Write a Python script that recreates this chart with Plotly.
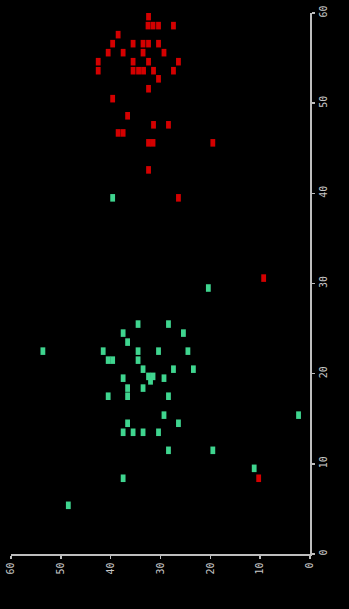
import plotly.graph_objects as go

# Series values (horizontal value = bottom axis, vertical value = right axis)
red_h = [32.4, 32.5, 31.5, 30.4, 27.4, 38.5, 39.6, 35.5, 33.5, 32.4, 30.4, 40.5, 37.5, 33.5, 29.3,
         42.5, 35.5, 32.4, 26.4, 42.5, 35.5, 34.4, 33.4, 31.4, 27.4, 30.4, 32.4, 39.6, 36.6, 31.4,
         28.4, 38.5, 37.5, 32.4, 31.5, 19.5, 32.4, 26.4, 9.3, 10.3]
red_v = [59.6, 58.6, 58.6, 58.6, 58.6, 57.6, 56.6, 56.6, 56.6, 56.6, 56.6, 55.6, 55.6, 55.6, 55.6,
         54.6, 54.6, 54.6, 54.6, 53.6, 53.6, 53.6, 53.6, 53.6, 53.6, 52.7, 51.6, 50.5, 48.6, 47.6,
         47.6, 46.7, 46.7, 45.6, 45.6, 45.6, 42.6, 39.5, 30.6, 8.4]

green_h = [39.6, 20.4, 34.5, 28.4, 37.5, 25.4, 36.6, 53.6, 41.5, 34.5, 30.4, 24.5, 40.5, 39.6, 34.5,
           33.5, 27.4, 23.4, 37.5, 32.4, 31.5, 32.0, 29.3, 36.6, 33.5, 40.5, 36.6, 28.4, 29.3, 2.3,
           36.6, 26.4, 37.5, 35.5, 33.5, 30.4, 28.4, 19.5, 11.2, 37.5, 48.5]
green_v = [39.5, 29.5, 25.5, 25.5, 24.5, 24.5, 23.5, 22.5, 22.5, 22.5, 22.5, 22.5, 21.5, 21.5, 21.5,
           20.5, 20.5, 20.5, 19.5, 19.7, 19.7, 19.2, 19.5, 18.4, 18.4, 17.5, 17.5, 17.5, 15.4, 15.4,
           14.5, 14.5, 13.5, 13.5, 13.5, 13.5, 11.5, 11.5, 9.5, 8.4, 5.4]

tick_vals = [0, 10, 20, 30, 40, 50, 60]
tick_text = ["0", "10", "20", "30", "40", "50", "60"]

RED = "#d40000"
GREEN = "#3fd58f"

fig = go.Figure()
for hv, vv, col in [(green_h, green_v, GREEN), (red_h, red_v, RED)]:
    fig.add_trace(go.Scatter(
        x=hv, y=vv, mode="markers",
        marker=dict(symbol="line-ns", size=5.4, color=col,
                    line=dict(width=4.8, color=col)),
        showlegend=False, hoverinfo="skip"))

axis_common = dict(
    showgrid=False, zeroline=False, showline=True, linecolor="#bdbdbd", linewidth=1.5,
    ticks="outside", ticklen=3, tickcolor="#bdbdbd", tickwidth=1.5,
    tickvals=tick_vals, ticktext=tick_text, tickangle=-90,
    ticklabeloverflow="allow",
    tickfont=dict(family="DejaVu Sans Mono", size=10, color="#c8c8c8"),
)

fig.update_layout(
    width=349, height=609,
    paper_bgcolor="black", plot_bgcolor="black",
    margin=dict(l=5, r=39, t=8, b=55),
    xaxis=dict(range=[60, 0], **axis_common),
    yaxis=dict(range=[0, 60], side="right", **axis_common),
)

fig.write_html(
    "out.html",
    config={"displayModeBar": False, "staticPlot": True},
    post_script="document.body.style.margin='0';document.body.style.background='black';"
                "document.body.style.overflow='hidden';",
)
